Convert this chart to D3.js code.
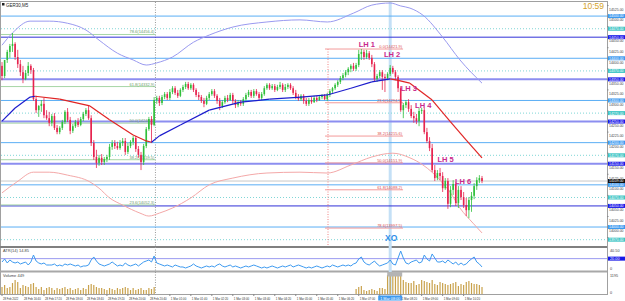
<!DOCTYPE html>
<html>
<head>
<meta charset="utf-8">
<script src="https://cdn.jsdelivr.net/npm/d3@7"></script>
<style>
  body { margin: 0; background: #fff; }
  svg { display: block; font-family: "Liberation Sans", Arial, sans-serif; }
</style>
</head>
<body>
<svg id="chart" width="625" height="301"></svg>
<script>
// ---- data ----
var symbol = "GER30,M5";
var clock = "10:59";

// M5 candles, 28 Feb 16:00 .. 1 Mar 10:55
var opens = [14382,14358,14396,14415,14429,14434,14403,14386,14367,14351,14365,14382,14372,14303,14277,14287,14292,14265,14258,14247,
  14263,14235,14225,14235,14249,14273,14254,14228,14239,14249,14242,14256,14268,14277,14258,14199,14166,14152,14164,14154,
  14161,14166,14190,14199,14192,14187,14199,14204,14178,14192,14202,14211,14185,14171,14154,14192,14232,14256,14242,14301,
  14306,14294,14308,14315,14306,14320,14329,14318,14311,14325,14332,14339,14329,14337,14325,14313,14308,14299,14292,14306,
  14315,14322,14311,14299,14287,14296,14306,14301,14313,14299,14289,14296,14292,14303,14313,14320,14311,14322,14315,14306,
  14315,14329,14337,14329,14334,14325,14332,14337,14325,14332,14337,14329,14318,14308,14303,14311,14299,14292,14301,14296,
  14306,14301,14308,14311,14303,14313,14322,14329,14337,14344,14353,14360,14367,14375,14382,14375,14384,14410,14415,14403,
  14412,14401,14386,14351,14358,14367,14356,14353,14363,14377,14367,14356,14329,14277,14289,14296,14280,14263,14258,14251,
  14275,14277,14225,14204,14187,14135,14116,14128,14121,14092,14109,14055,14088,14102,14057,14088,14071,14052,14040,14064,
  14074,14097,14111,14116];
var highs = [14391,14391,14420,14434,14460,14438,14420,14396,14382,14372,14391,14386,14377,14311,14289,14301,14306,14277,14273,14268,
  14270,14242,14239,14254,14277,14282,14261,14244,14254,14258,14261,14273,14282,14287,14265,14206,14183,14171,14173,14166,
  14171,14197,14206,14206,14202,14206,14211,14211,14199,14206,14216,14216,14192,14178,14197,14237,14261,14263,14308,14311,
  14311,14313,14320,14320,14327,14334,14334,14325,14329,14337,14344,14344,14341,14341,14329,14320,14313,14306,14311,14320,
  14327,14327,14315,14306,14301,14311,14313,14318,14318,14303,14301,14301,14308,14318,14325,14325,14327,14327,14320,14320,
  14334,14341,14341,14339,14339,14337,14344,14341,14339,14341,14341,14334,14325,14315,14315,14315,14306,14306,14308,14311,
  14311,14313,14315,14315,14318,14327,14332,14341,14348,14358,14365,14372,14379,14386,14389,14389,14420,14422,14420,14420,
  14417,14408,14391,14363,14372,14372,14363,14367,14384,14382,14372,14360,14334,14294,14301,14303,14289,14273,14268,14282,
  14282,14282,14235,14213,14197,14147,14135,14140,14130,14116,14116,14097,14111,14107,14097,14097,14083,14069,14071,14083,
  14104,14118,14123,14121];
var lows = [14348,14353,14389,14401,14415,14396,14377,14358,14341,14348,14358,14363,14299,14270,14261,14273,14258,14254,14239,14239,
  14230,14220,14220,14230,14244,14249,14220,14223,14235,14237,14239,14251,14263,14254,14192,14159,14140,14145,14147,14147,
  14154,14159,14183,14185,14183,14183,14192,14171,14173,14187,14194,14178,14164,14135,14147,14187,14228,14199,14239,14292,
  14287,14289,14303,14301,14301,14315,14313,14306,14308,14320,14327,14325,14325,14320,14308,14301,14294,14284,14289,14301,
  14311,14306,14292,14277,14282,14292,14296,14299,14292,14282,14284,14287,14287,14299,14308,14306,14306,14311,14301,14301,
  14311,14325,14325,14325,14320,14322,14327,14320,14320,14327,14325,14313,14303,14299,14299,14292,14287,14287,14292,14294,
  14296,14299,14303,14301,14299,14308,14318,14325,14332,14339,14348,14355,14360,14367,14370,14370,14379,14396,14396,14398,
  14396,14379,14344,14344,14353,14325,14320,14348,14358,14363,14348,14320,14273,14258,14282,14273,14258,14247,14244,14239,
  14268,14220,14199,14180,14130,14109,14111,14111,14083,14088,14043,14047,14076,14050,14045,14064,14045,14026,14021,14036,
  14066,14088,14104,14104];
var closes = [14358,14396,14415,14429,14434,14403,14386,14367,14351,14365,14382,14372,14303,14277,14287,14292,14265,14258,14247,14263,
  14235,14225,14235,14249,14273,14254,14228,14239,14249,14242,14256,14268,14277,14258,14199,14166,14152,14164,14154,14161,
  14166,14190,14199,14192,14187,14199,14204,14178,14192,14202,14211,14185,14171,14154,14192,14232,14256,14242,14301,14306,
  14294,14308,14315,14306,14320,14329,14318,14311,14325,14332,14339,14329,14337,14325,14313,14308,14299,14292,14306,14315,
  14322,14311,14299,14287,14296,14306,14301,14313,14299,14289,14296,14292,14303,14313,14320,14311,14322,14315,14306,14315,
  14329,14337,14329,14334,14325,14332,14337,14325,14332,14337,14329,14318,14308,14303,14311,14299,14292,14301,14296,14306,
  14301,14308,14311,14303,14313,14322,14329,14337,14344,14353,14360,14367,14375,14382,14375,14384,14410,14415,14403,14412,
  14401,14386,14351,14358,14367,14356,14353,14363,14377,14367,14356,14329,14277,14289,14296,14280,14263,14258,14251,14275,
  14277,14225,14204,14187,14135,14116,14128,14121,14092,14109,14055,14088,14102,14057,14088,14071,14052,14040,14064,14074,
  14097,14111,14116,14109];

// ATR sub-window
var atrVals = [13.5,19.3,11.6,17.4,13.5,11.6,13.5,9.7,11.6,13.5,7.7,13.5,27.0,15.4,11.6,9.7,11.6,7.7,7.7,7.7,
  9.7,5.8,7.7,5.8,9.7,7.7,9.7,7.7,5.8,7.7,3.9,5.8,5.8,7.7,17.4,23.2,15.4,9.7,7.7,5.8,
  7.7,9.7,13.5,9.7,5.8,7.7,5.8,11.6,7.7,5.8,7.7,9.7,5.8,9.7,13.5,15.4,17.4,13.5,25.1,11.6,
  9.7,7.7,5.8,7.7,5.8,3.9,7.7,5.8,3.9,3.9,1.9,3.9,5.8,9.7,5.8,3.9,1.9,3.9,5.8,3.9,
  5.8,3.9,7.7,9.7,5.8,3.9,5.8,7.7,3.9,5.8,3.9,1.9,3.9,5.8,3.9,5.8,7.7,5.8,3.9,1.9,
  3.9,1.9,3.9,5.8,3.9,1.9,3.9,5.8,3.9,5.8,7.7,3.9,5.8,7.7,5.8,3.9,1.9,3.9,1.9,3.9,
  5.8,3.9,1.9,3.9,5.8,3.9,7.7,5.8,3.9,5.8,7.7,5.8,7.7,5.8,9.7,11.6,19.3,23.2,13.5,9.7,
  7.7,11.6,15.4,9.7,5.8,7.7,9.7,11.6,17.4,9.7,7.7,21.2,34.7,21.2,11.6,9.7,13.5,15.4,17.4,11.6,
  13.5,27.0,19.3,15.4,29.0,21.2,13.5,13.5,15.4,11.6,17.4,13.5,9.7,13.5,7.7,11.6,7.7,9.7,15.4,19.3,
  23.2,13.5,9.7,3.9];
var atrName = "ATR(14) 14.85";
var atrLevel = 20;

// Volume sub-window (no volume recorded between the sessions)
var volVals = [380,489,326,380,597,760,652,326,489,434,380,543,597,380,272,380,217,326,380,326,
  217,326,272,326,380,272,326,217,272,326,217,326,272,489,543,489,380,326,326,272,
  217,326,272,217,326,272,326,380,326,217,326,217,272,326,217,217,326,272,380,
  null,null,null,null,null,null,null,null,null,null,null,null,null,null,null,null,null,null,null,null,
  null,null,null,null,null,null,null,null,null,null,null,null,null,null,null,null,null,null,null,null,
  null,null,null,null,null,null,null,null,null,null,null,null,null,null,null,null,null,null,null,null,
  null,null,null,null,null,null,null,null,null,null,null,null,null,null,null,null,
  272,380,434,217,163,217,272,217,163,326,326,272,1032,1140,1086,1195,1140,1086,760,652,
  597,597,706,489,543,760,706,652,597,760,543,489,652,597,543,489,543,597,652,434,
  543,489,652,706,597,543,543,489,380];
var volName = "Volume 449";

// round levels drawn across the whole chart
var lightLevels = [14500, 14400, 14300, 14200, 14100, 14000];
var dotLevels = [14470, 14370, 14270, 14170, 14070, 13970];
var blueLevels = [14450, 14050];
var lavLevels = [14350, 14250, 14150];
var lastPrice = 14109.0;

var priceTicks = [14525, 14500, 14475, 14450, 14425, 14400, 14375, 14350, 14325, 14300, 14275, 14250,
  14225, 14200, 14175, 14150, 14125, 14100, 14075, 14050, 14025, 14000, 13975];

// fibo on the left (green) and on the right (red)
var fibGreenLevels = ["78.6", "61.8", "50.0", "38.2", "23.6"];
var fibGreenPrices = [14456.4, 14332.9, 14246.2, 14159.5, 14052.3];
var fibRedLevels = ["0.0", "23.6", "38.2", "50.0", "61.8", "78.6"];
var fibRedPrices = [14421.9, 14294.5, 14215.6, 14151.9, 14088.2, 13997.5];

// swing labels
var lhNames = ["LH 1", "LH 2", "LH 3", "LH 4", "LH 5", "LH 6"];
var lhBars = [136, 145.6, 152, 157.5, 166, 172.7];
var lhPrices = [14427, 14402, 14323, 14282, 14154, 14103];

// colour moving average
var maBars = [0, 5, 10.7, 12.6, 22, 33.5, 41, 50, 55, 57, 60, 68, 79, 91, 102, 114, 124, 133, 141, 148, 150.6, 155.5, 164, 171, 177, 183];
var maVals = [14251, 14282, 14308, 14310, 14303, 14287, 14254, 14218, 14204, 14201, 14216, 14242, 14277, 14296, 14303, 14308, 14313, 14329, 14344, 14351, 14348, 14341, 14301, 14249, 14206, 14164];

// bands
var upBars = [0, 4, 10.7, 18, 25, 32, 37, 44, 50, 55, 59, 65, 73, 79, 88, 101, 113.6, 124, 134, 141, 148, 152, 155.5, 160.5, 168, 174.6, 183];
var upVals = [14431, 14460, 14488, 14488, 14483, 14467, 14443, 14412, 14396, 14384, 14389, 14403, 14438, 14455, 14474, 14486, 14491, 14486, 14507, 14526, 14531, 14524, 14519, 14502, 14450, 14396, 14341];
var loBars = [0, 5.7, 12, 18, 25, 33.5, 37, 41, 46, 52.6, 56, 60, 65, 72, 79, 88, 101, 113.6, 124, 133, 141, 149, 155.5, 160.5, 167, 171, 174.6, 179.6, 183];
var loVals = [14081, 14107, 14130, 14130, 14123, 14107, 14092, 14069, 14052, 14033, 14026, 14033, 14045, 14069, 14100, 14116, 14128, 14130, 14128, 14147, 14166, 14175, 14164, 14147, 14111, 14081, 14045, 14009, 13986];

// time axis
var timeLabels = ["28 Feb 2022", "28 Feb 16:40", "28 Feb 17:20", "28 Feb 18:00", "28 Feb 18:40", "28 Feb 19:20",
  "28 Feb 20:00", "28 Feb 20:40", "1 Mar 01:00", "1 Mar 01:40", "1 Mar 02:20", "1 Mar 03:00", "1 Mar 03:40",
  "1 Mar 04:20", "1 Mar 05:00", "1 Mar 05:40", "1 Mar 06:20", "1 Mar 07:00", "1 Mar 07:40", "1 Mar 08:20",
  "1 Mar 09:00", "1 Mar 09:40", "1 Mar 10:20"];
var daySepBar = 58.5;
var vlineBar = 148;
var vlineLabel = "1 Mar 08:00";

// ---- layout ----
var plotR = 607;
var green = "#2fbf3a", red = "#e6234e";
var svg = d3.select("#chart");

var x = d3.scaleLinear().domain([0, 183]).range([2, 482]);
var y = d3.scaleLinear().domain([13955, 14531]).range([246, 3]);
var yAtr = d3.scaleLinear().domain([0, 40.5]).range([269, 248]);
var yVol = d3.scaleLinear().domain([0, 1195]).range([294, 272]);

// frames
svg.append("rect").attr("x", 0.5).attr("y", 1.5).attr("width", plotR).attr("height", 293)
  .attr("fill", "none").attr("stroke", "#a0a0a0");
svg.append("line").attr("x1", 0).attr("x2", plotR).attr("y1", 247).attr("y2", 247).attr("stroke", "#808080").attr("stroke-width", 2);
svg.append("line").attr("x1", 0).attr("x2", plotR).attr("y1", 271.5).attr("y2", 271.5).attr("stroke", "#a8a8a8").attr("stroke-width", 2);

// vertical highlight line and day separator sit behind everything
svg.append("line").attr("x1", x(vlineBar)).attr("x2", x(vlineBar)).attr("y1", 2).attr("y2", 294)
  .attr("stroke", "#c4e0f6").attr("stroke-width", 3);
svg.append("line").attr("x1", x(daySepBar)).attr("x2", x(daySepBar)).attr("y1", 2).attr("y2", 294)
  .attr("stroke", "#999").attr("stroke-dasharray", "1,1.5");

var main = svg.append("g");

// levels
function hline(p, color, w, dash) {
  main.append("line").attr("x1", 1).attr("x2", plotR).attr("y1", y(p)).attr("y2", y(p))
    .attr("stroke", color).attr("stroke-width", w).attr("stroke-dasharray", dash || null);
}
lightLevels.forEach(p => hline(p, "#5aaef5", 1));
dotLevels.forEach(p => hline(p, "#7fd6d6", 1, "1,2"));
blueLevels.forEach(p => hline(p, "#3030d8", 1));
lavLevels.forEach(p => hline(p, "#8c8ef0", 2));
hline(lastPrice, "#c8c8c8", 1);

// green fibo
fibGreenPrices.forEach(function (p, i) {
  main.append("line").attr("x1", 1).attr("x2", x(daySepBar)).attr("y1", y(p)).attr("y2", y(p))
    .attr("stroke", "#a6d6a6").attr("stroke-width", 1);
  main.append("text").attr("x", x(daySepBar) - 1).attr("y", y(p) - 1).attr("text-anchor", "end")
    .attr("font-size", 4).attr("fill", "#6a9a6a").text(fibGreenLevels[i] + "(" + p.toFixed(1) + ")");
});

// red fibo
var redX0 = 325, redX1 = x(152.9);
main.append("line").attr("x1", 328).attr("x2", 328).attr("y1", y(fibRedPrices[0])).attr("y2", 246)
  .attr("stroke", "#f08080").attr("stroke-dasharray", "1,1.5");
fibRedPrices.forEach(function (p, i) {
  main.append("line").attr("x1", redX0).attr("x2", redX1).attr("y1", y(p)).attr("y2", y(p))
    .attr("stroke", "#f39a9a").attr("stroke-width", 1);
  main.append("text").attr("x", redX1 - 1).attr("y", y(p) - 1).attr("text-anchor", "end")
    .attr("font-size", 4).attr("fill", "#e05050").text(fibRedLevels[i] + "(" + p.toFixed(1) + ")");
});

// bands
var bandLine = d3.line().x(d => x(d[0])).y(d => y(d[1])).curve(d3.curveMonotoneX);
main.append("path").attr("d", bandLine(d3.zip(upBars, upVals))).attr("fill", "none").attr("stroke", "#9a9af0").attr("stroke-width", 1);
main.append("path").attr("d", bandLine(d3.zip(loBars, loVals))).attr("fill", "none").attr("stroke", "#f4a8a8").attr("stroke-width", 1);

// candles
var idx = d3.range(closes.length);
main.selectAll("line.wick").data(idx).enter().append("line")
  .attr("x1", i => x(i)).attr("x2", i => x(i))
  .attr("y1", i => y(highs[i])).attr("y2", i => y(lows[i]))
  .attr("stroke", i => closes[i] >= opens[i] ? green : red).attr("stroke-width", 0.8);
main.selectAll("rect.body").data(idx).enter().append("rect")
  .attr("x", i => x(i) - 0.8).attr("width", 1.6)
  .attr("y", i => y(Math.max(opens[i], closes[i])))
  .attr("height", i => Math.max(0.8, Math.abs(y(opens[i]) - y(closes[i]))))
  .attr("fill", i => closes[i] >= opens[i] ? green : red);

// moving average, blue when rising, red when falling
var maPts = d3.zip(maBars, maVals);
var seg = d3.line().x(d => x(d[0])).y(d => y(d[1]));
for (var i = 1; i < maPts.length; i++) {
  var up = maPts[i][1] >= maPts[i - 1][1];
  main.append("path").attr("d", seg([maPts[i - 1], maPts[i]]))
    .attr("fill", "none").attr("stroke", up ? "#1c1ccc" : "#e02424").attr("stroke-width", 1.2);
}

// swing labels
lhNames.forEach(function (n, i) {
  main.append("text").attr("x", x(lhBars[i])).attr("y", y(lhPrices[i])).attr("font-size", 7.5)
    .attr("font-weight", "bold").attr("fill", "#c8288c").text(n);
});
main.append("text").attr("x", x(vlineBar) + 1).attr("y", 241).attr("text-anchor", "middle").attr("font-size", 8.5)
  .attr("font-weight", "bold").attr("fill", "#2f8ee8").text("XO");

// title and clock
svg.append("rect").attr("x", 2).attr("y", 3).attr("width", 2.5).attr("height", 2.5).attr("fill", "#222");
svg.append("text").attr("x", 6).attr("y", 6.5).attr("font-size", 4.5).attr("fill", "#222").text(symbol);
svg.append("text").attr("x", 604).attr("y", 9).attr("text-anchor", "end").attr("font-size", 8.5).attr("fill", "#d4a32a").text(clock);

// price axis
var axisG = svg.append("g");
var boxPrices = lightLevels.concat(dotLevels, blueLevels, lavLevels, [lastPrice]);
function axisText(txt, yy, color) {
  axisG.append("text").attr("x", plotR + 2).attr("y", yy).attr("font-size", 3.8).attr("fill", color)
    .attr("textLength", 14.5).attr("lengthAdjust", "spacingAndGlyphs").text(txt);
}
priceTicks.forEach(function (p) {
  axisG.append("line").attr("x1", plotR).attr("x2", plotR + 1.5).attr("y1", y(p)).attr("y2", y(p)).attr("stroke", "#888");
  // a tick label that falls under a level box is hidden, as in the terminal
  var hidden = boxPrices.some(b => Math.abs(y(b) - (y(p) + 3.7)) < 3);
  if (!hidden) axisText(p.toFixed(2), y(p) + 5.3, "#444");
});
function priceBox(p, color) {
  axisG.append("rect").attr("x", plotR + 1).attr("y", y(p) - 2).attr("width", 17).attr("height", 4).attr("fill", color);
  axisText(p.toFixed(2), y(p) + 1.4, "#fff");
}
lightLevels.forEach(p => priceBox(p, "#3d9af0"));
dotLevels.forEach(p => priceBox(p, "#3cc4c4"));
blueLevels.concat(lavLevels).forEach(p => priceBox(p, "#1818e8"));
priceBox(lastPrice, "#111");

// ATR pane
svg.append("text").attr("x", 3).attr("y", 252).attr("font-size", 4).attr("fill", "#444").text(atrName);
svg.append("line").attr("x1", 1).attr("x2", plotR).attr("y1", yAtr(atrLevel)).attr("y2", yAtr(atrLevel)).attr("stroke", "#9a9af0");
svg.append("path").attr("d", d3.line().x((d, i) => x(i)).y(d => yAtr(d))(atrVals))
  .attr("fill", "none").attr("stroke", "#3d9af0").attr("stroke-width", 1);
axisG.append("rect").attr("x", plotR + 1).attr("y", yAtr(atrLevel) - 2).attr("width", 17).attr("height", 4).attr("fill", "#1818e8");
axisG.append("text").attr("x", plotR + 3).attr("y", yAtr(atrLevel) + 1.4).attr("font-size", 3.8).attr("fill", "#fff").text(atrLevel.toFixed(2));
axisG.append("text").attr("x", plotR + 3).attr("y", 252).attr("font-size", 3.8).attr("fill", "#444").text("40.50");
axisG.append("text").attr("x", plotR + 3).attr("y", 269.5).attr("font-size", 3.8).attr("fill", "#444").text("0");

// Volume pane
svg.selectAll("rect.vol").data(idx.filter(i => volVals[i] != null)).enter().append("rect")
  .attr("x", i => x(i) - 0.6).attr("width", 1.2)
  .attr("y", i => yVol(volVals[i])).attr("height", i => yVol(0) - yVol(volVals[i]))
  .attr("fill", "#c9a24c");
svg.append("text").attr("x", 3).attr("y", 276.5).attr("font-size", 4).attr("fill", "#444").text(volName);
svg.append("rect").attr("x", x(vlineBar) - 3).attr("y", 272).attr("width", 15).attr("height", 4.5).attr("fill", "#b4b4b4");
axisG.append("text").attr("x", plotR + 3).attr("y", 277).attr("font-size", 3.8).attr("fill", "#444").text("1195");
axisG.append("text").attr("x", plotR + 3).attr("y", 294).attr("font-size", 3.8).attr("fill", "#444").text("0");

// time axis
var tG = svg.append("g");
timeLabels.forEach(function (t, i) {
  var xx = x(i * 8);
  tG.append("line").attr("x1", xx).attr("x2", xx).attr("y1", 294).attr("y2", 296).attr("stroke", "#888");
  tG.append("text").attr("x", xx + 1).attr("y", 299.5).attr("font-size", 3.6).attr("fill", "#333")
    .attr("textLength", t.length * 1.4).attr("lengthAdjust", "spacingAndGlyphs").text(t);
});
tG.append("rect").attr("x", x(vlineBar) - 12).attr("y", 295.5).attr("width", 24).attr("height", 5).attr("fill", "#3d9af0");
tG.append("text").attr("x", x(vlineBar) - 10).attr("y", 299.5).attr("font-size", 3.6).attr("fill", "#fff")
  .attr("textLength", 20).attr("lengthAdjust", "spacingAndGlyphs").text(vlineLabel);
</script>
</body>
</html>
